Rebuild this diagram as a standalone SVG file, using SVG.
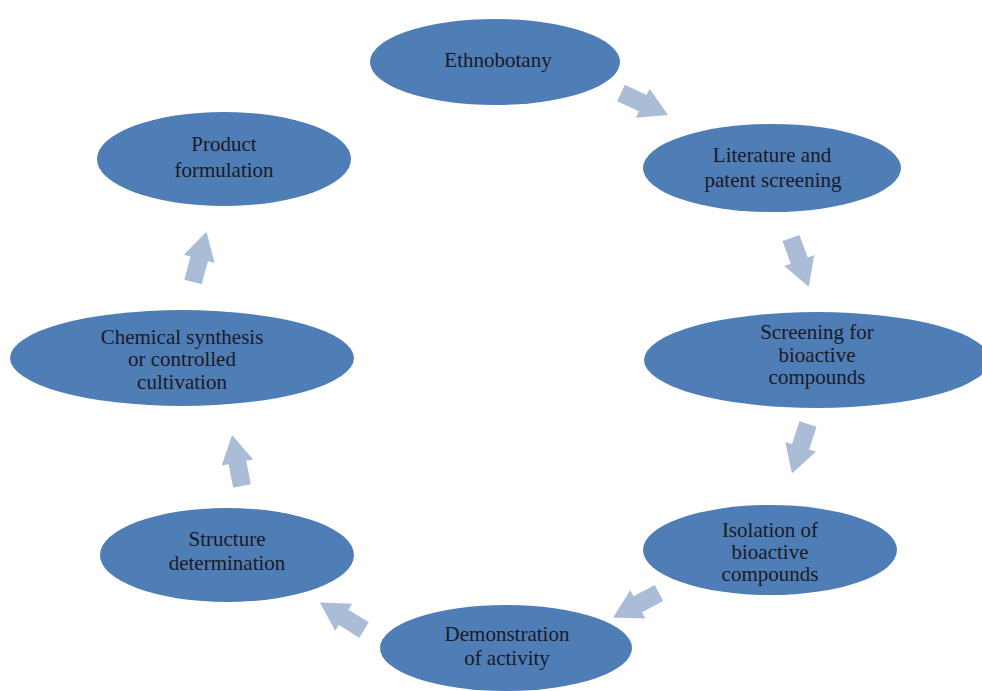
<svg xmlns="http://www.w3.org/2000/svg" width="982" height="691" viewBox="0 0 982 691">
<style>
.n ellipse{fill:#4f7db6;}
.n text{font-family:"Liberation Serif","Times New Roman",serif;font-size:21px;fill:#1a1a26;text-anchor:middle;}
.a{fill:#abbcd7;}
</style>
<defs>
<polygon id="arr" points="0,-9 24,-9 24,-16 52,0 24,16 24,9 0,9"/>
</defs>
<rect width="982" height="691" fill="#ffffff"/>
<g id="connectors">
<use href="#arr" class="a" transform="translate(621,93) rotate(25)"/>
<use href="#arr" class="a" transform="translate(791,238) rotate(70)"/>
<use href="#arr" class="a" transform="translate(808,424) rotate(108)"/>
<use href="#arr" class="a" transform="translate(659,593) rotate(152)"/>
<use href="#arr" class="a" transform="translate(364,630) rotate(212)"/>
<use href="#arr" class="a" transform="translate(242,486) rotate(259)"/>
<use href="#arr" class="a" transform="translate(193,282) rotate(285)"/>
</g>
<g id="n1" class="n"><ellipse cx="495" cy="62" rx="125" ry="43"/><text x="498" y="67">Ethnobotany</text></g>
<g id="n2" class="n"><ellipse cx="772" cy="168" rx="129" ry="44"/><text x="772" y="162">Literature and</text><text x="773" y="187">patent screening</text></g>
<g id="n3" class="n"><ellipse cx="817" cy="360" rx="173" ry="48"/><text x="817" y="339">Screening for</text><text x="817" y="362">bioactive</text><text x="817" y="384">compounds</text></g>
<g id="n4" class="n"><ellipse cx="770" cy="550" rx="127" ry="45"/><text x="770" y="537">Isolation of</text><text x="770" y="559">bioactive</text><text x="770" y="581">compounds</text></g>
<g id="n5" class="n"><ellipse cx="506" cy="648" rx="126" ry="43"/><text x="507" y="641">Demonstration</text><text x="507" y="665">of activity</text></g>
<g id="n6" class="n"><ellipse cx="227" cy="555" rx="127" ry="47"/><text x="227" y="546">Structure</text><text x="227" y="570">determination</text></g>
<g id="n7" class="n"><ellipse cx="182" cy="358" rx="172" ry="48"/><text x="182" y="344">Chemical synthesis</text><text x="182" y="366">or controlled</text><text x="182" y="389">cultivation</text></g>
<g id="n8" class="n"><ellipse cx="224" cy="159" rx="127" ry="47"/><text x="224" y="151">Product</text><text x="224" y="177">formulation</text></g>
</svg>
